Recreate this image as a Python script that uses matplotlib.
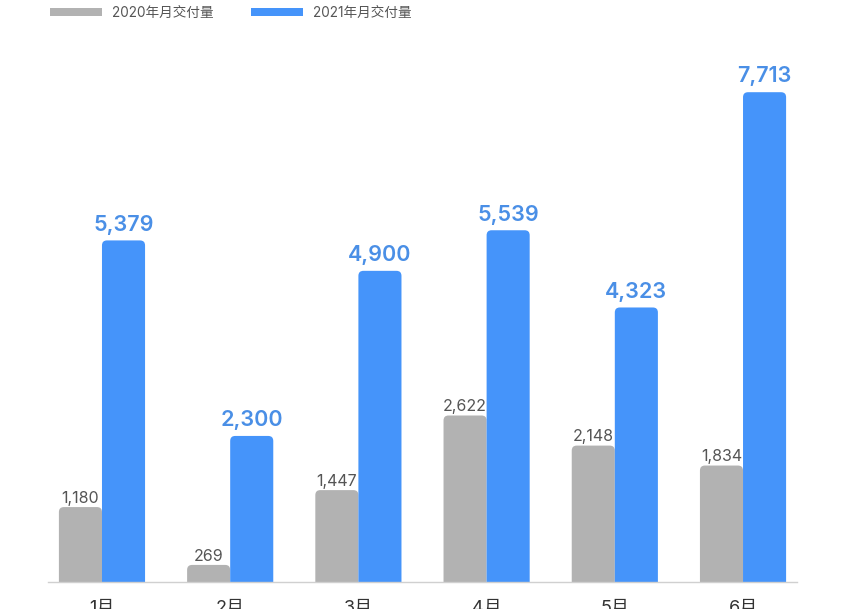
import matplotlib
matplotlib.use('Agg')
import matplotlib.pyplot as plt
from matplotlib.patches import FancyBboxPatch, Patch

plt.rcParams['font.family'] = ['Inter', 'Noto Sans CJK SC', 'DejaVu Sans']

months = ['1月', '2月', '3月', '4月', '5月', '6月']
deliv_2020 = [1180, 269, 1447, 2622, 2148, 1834]
deliv_2021 = [5379, 2300, 4900, 5539, 4323, 7713]
series_names = ['2020年月交付量', '2021年月交付量']

gray = '#b2b2b2'
blue = '#4594fa'

W, H = 846, 609
fig = plt.figure(figsize=(W / 100, H / 100), dpi=100)
ax_l, ax_b, ax_w, ax_h = 48, 27, 749, 542
ax = fig.add_axes([ax_l / W, ax_b / H, ax_w / W, ax_h / H])

xmin, xmax = -0.421, 5.421
ymax = 8535
ax.set_xlim(xmin, xmax)
ax.set_ylim(0, ymax)

width = 0.336
x = list(range(len(months)))
bars_a = ax.bar([i - width / 2 for i in x], deliv_2020, width, color=gray)
bars_b = ax.bar([i + width / 2 for i in x], deliv_2021, width, color=blue)

# swap plain bars for ones with rounded tops
px_x = ax_w / (xmax - xmin)
px_y = ax_h / ymax
r = 5 / px_x
aspect = px_x / px_y
for bars in (bars_a, bars_b):
    for b in bars:
        x0, w, h = b.get_x(), b.get_width(), b.get_height()
        ext = 10 / px_y
        p = FancyBboxPatch((x0, -ext), w, h + ext,
                           boxstyle=f'round,pad=0,rounding_size={r}',
                           mutation_aspect=aspect,
                           facecolor=b.get_facecolor(), edgecolor='none')
        ax.add_patch(p)
        b.set_visible(False)

for i in x:
    ax.annotate(f'{deliv_2020[i]:,}', (i - width / 2, deliv_2020[i]),
                xytext=(0, 3), textcoords='offset points',
                ha='center', va='baseline', fontsize=11.5, color='#555555')
    ax.annotate(f'{deliv_2021[i]:,}', (i + width / 2, deliv_2021[i]),
                xytext=(0, 7), textcoords='offset points',
                ha='center', va='baseline', fontsize=15.5,
                fontweight='semibold', color='#4a8fe6')

for s in ['top', 'right', 'left']:
    ax.spines[s].set_visible(False)
ax.spines['bottom'].set_color('#d0d0d0')
ax.spines['bottom'].set_linewidth(1)
ax.spines['bottom'].set_zorder(5)
ax.set_yticks([])
ax.set_xticks(x, months)
ax.tick_params(axis='x', length=0, pad=13, labelsize=13, labelcolor='#333333')

handles = [Patch(facecolor=gray, edgecolor='none'),
           Patch(facecolor=blue, edgecolor='none')]
fig.legend(handles, series_names, loc='center left',
           bbox_to_anchor=(50 / W, 1 - 13 / H), ncol=2, frameon=False,
           fontsize=9.8, labelcolor='#555555', handlelength=3.8,
           handleheight=0.45, handletextpad=0.72, columnspacing=2.8,
           borderpad=0, borderaxespad=0)

plt.savefig('out.png', dpi=100)
